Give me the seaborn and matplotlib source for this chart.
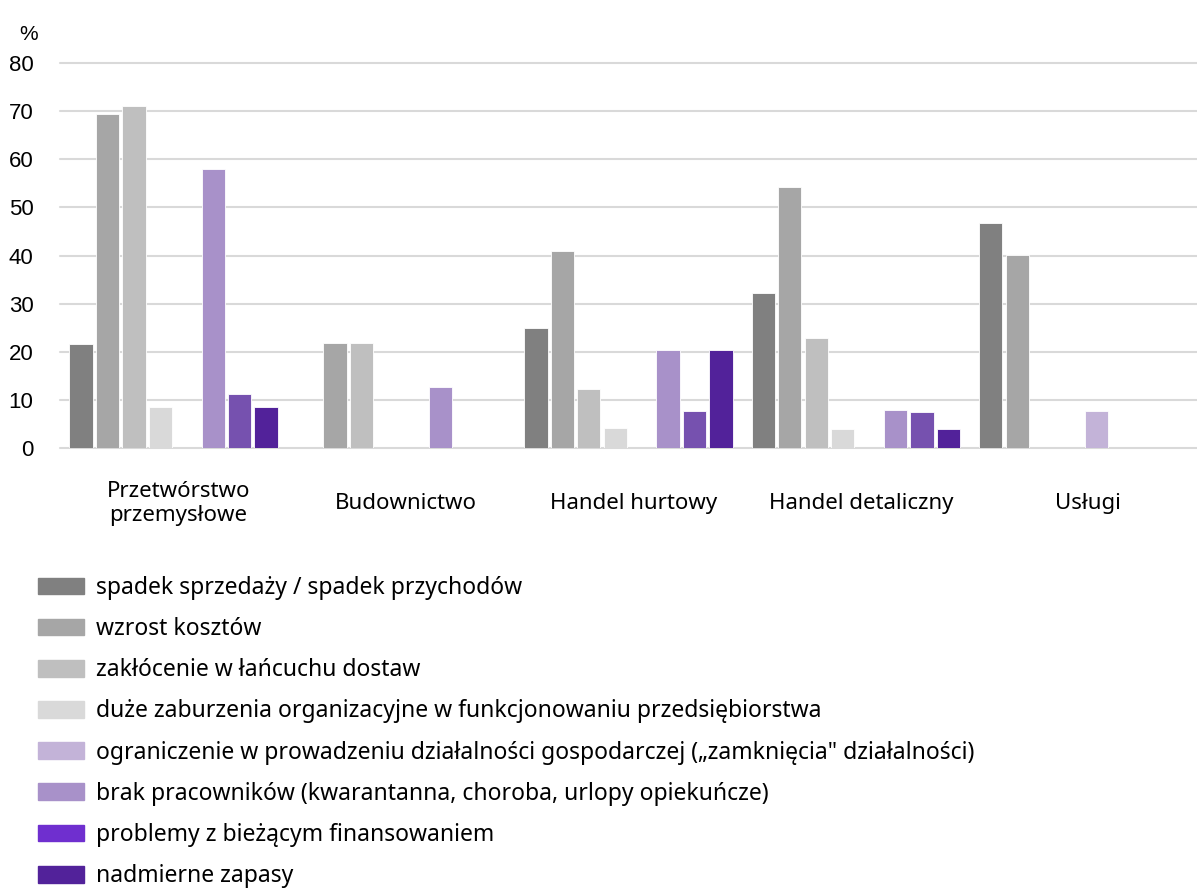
import matplotlib
matplotlib.use("Agg")
import matplotlib.pyplot as plt
import matplotlib.patches as mpatches
import matplotlib.transforms as mtransforms
import pandas as pd
import seaborn as sns

categories = ["Przetwórstwo\nprzemysłowe", "Budownictwo", "Handel hurtowy",
              "Handel detaliczny", "Usługi"]

series = [
    "spadek sprzedaży / spadek przychodów",
    "wzrost kosztów",
    "zakłócenie w łańcuchu dostaw",
    "duże zaburzenia organizacyjne w funkcjonowaniu przedsiębiorstwa",
    "ograniczenie w prowadzeniu działalności gospodarczej („zamknięcia\" działalności)",
    "brak pracowników (kwarantanna, choroba, urlopy opiekuńcze)",
    "problemy z bieżącym finansowaniem",
    "nadmierne zapasy",
]

spadek_sprzedazy = [21.7, 0, 24.9, 32.2, 46.7]
wzrost_kosztow = [69.4, 21.9, 41.0, 54.3, 40.2]
zaklocenie_dostaw = [71.0, 21.9, 12.3, 22.9, 0]
zaburzenia_org = [8.6, 0, 4.2, 4.0, 0]
ograniczenie = [0, 0, 0, 0, 7.6]
brak_pracownikow = [57.9, 12.7, 20.4, 7.9, 0]
finansowanie = [11.3, 0, 7.7, 7.5, 0]
zapasy = [8.6, 0, 20.4, 4.0, 0]

values = [spadek_sprzedazy, wzrost_kosztow, zaklocenie_dostaw, zaburzenia_org,
          ograniczenie, brak_pracownikow, finansowanie, zapasy]

bar_colors = ["#808080", "#A6A6A6", "#BFBFBF", "#D9D9D9",
              "#C3B3D8", "#A891C9", "#7651AF", "#52229A"]
legend_colors = ["#808080", "#A6A6A6", "#BFBFBF", "#D9D9D9",
                 "#C3B3D8", "#A891C9", "#6F2FCF", "#52229A"]

rows = []
for s, vals in zip(series, values):
    for c, v in zip(categories, vals):
        rows.append({"kategoria": c, "seria": s, "wartosc": v})
df = pd.DataFrame(rows)

sns.set_style("white")
plt.rcParams["font.family"] = ["Noto Sans", "DejaVu Sans"]
plt.rcParams["text.color"] = "black"
plt.rcParams["xtick.color"] = "black"
plt.rcParams["ytick.color"] = "black"

fig = plt.figure(figsize=(11.97, 8.88), dpi=100)
ax = fig.add_axes([0.05, 0.4955, 0.95, 0.4335])

sns.barplot(data=df, x="kategoria", y="wartosc", hue="seria",
            hue_order=series, order=categories, palette=bar_colors,
            saturation=1, width=0.93, gap=0.12, edgecolor="white",
            linewidth=0.6, legend=False, ax=ax)

ax.set_ylim(0, 80)
ax.set_xlim(-0.5, 4.5)
ax.set_yticks(range(0, 81, 10))
ax.yaxis.grid(True, color="#D9D9D9", linewidth=1.5)
for gl in ax.get_ygridlines():
    gl.set_clip_on(False)
ax.set_axisbelow(True)
for sp in ax.spines.values():
    sp.set_visible(False)
ax.set_xlabel("")
ax.set_ylabel("")
ax.tick_params(axis="both", length=0)
ax.tick_params(axis="x", pad=40, labelsize=16)
shift = mtransforms.ScaledTranslation(5 / 100, 0, fig.dpi_scale_trans)
for lab in ax.get_xticklabels():
    lab.set_verticalalignment("center")
    lab.set_horizontalalignment("center")
    lab.set_transform(lab.get_transform() + shift)
for lab in ax.get_yticklabels():
    lab.set_fontfamily(["Liberation Sans", "DejaVu Sans"])
    lab.set_fontsize(16)
ax.tick_params(axis="y", pad=19)

fig.text(0.016, 0.961, "%", fontsize=15, family=["Liberation Sans", "DejaVu Sans"],
         va="center")

handles = [mpatches.Patch(color=c, label=s) for c, s in zip(legend_colors, series)]
fig.legend(handles=handles, loc="upper left", bbox_to_anchor=(0.032, 0.3515),
           frameon=False, fontsize=16.5, handlelength=2.0, handleheight=0.74,
           handletextpad=0.52, labelspacing=0.75, borderaxespad=0, borderpad=0)

fig.savefig("out.png", dpi=100)
